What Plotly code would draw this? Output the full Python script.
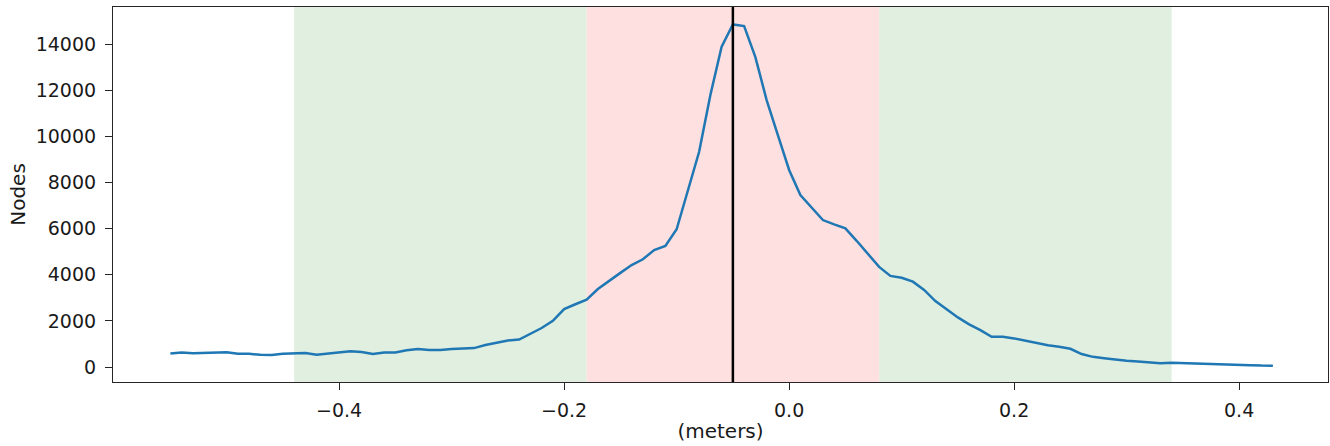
import plotly.graph_objects as go

meters = [-0.55, -0.54, -0.53, -0.52, -0.51, -0.50, -0.49, -0.48, -0.47, -0.46,
          -0.45, -0.44, -0.43, -0.42, -0.41, -0.40, -0.39, -0.38, -0.37, -0.36,
          -0.35, -0.34, -0.33, -0.32, -0.31, -0.30, -0.29, -0.28, -0.27, -0.26,
          -0.25, -0.24, -0.23, -0.22, -0.21, -0.20, -0.19, -0.18, -0.17, -0.16,
          -0.15, -0.14, -0.13, -0.12, -0.11, -0.10, -0.09, -0.08, -0.07, -0.06,
          -0.05, -0.04, -0.03, -0.02, -0.01, 0.00, 0.01, 0.02, 0.03, 0.04,
          0.05, 0.06, 0.07, 0.08, 0.09, 0.10, 0.11, 0.12, 0.13, 0.14,
          0.15, 0.16, 0.17, 0.18, 0.19, 0.20, 0.21, 0.22, 0.23, 0.24,
          0.25, 0.26, 0.27, 0.28, 0.29, 0.30, 0.31, 0.32, 0.33, 0.34,
          0.35, 0.36, 0.37, 0.38, 0.39, 0.40, 0.41, 0.42, 0.43]

nodes = [590, 630, 600, 610, 610, 640, 570, 570, 530, 520,
         570, 580, 610, 530, 590, 620, 680, 650, 560, 630,
         630, 730, 780, 740, 740, 780, 810, 820, 950, 1050,
         1150, 1190, 1430, 1690, 2000, 2510, 2720, 2920, 3380, 3750,
         4080, 4420, 4670, 5070, 5250, 5970, 7600, 9330, 11790, 13880,
         14850, 14780, 13430, 11570, 10050, 8540, 7450, 6920, 6370, 6180,
         6010, 5470, 4900, 4340, 3950, 3870, 3700, 3340, 2860, 2510,
         2150, 1850, 1600, 1310, 1310, 1240, 1140, 1050, 940, 880,
         790, 560, 440, 380, 310, 270, 240, 200, 160, 180,
         170, 150, 130, 110, 100, 90, 80, 60, 56]

center = -0.05
inner_band = [-0.18, 0.08]
outer_band = [-0.44, 0.34]

x_ticks = [-0.4, -0.2, 0.0, 0.2, 0.4]
y_ticks = [0, 2000, 4000, 6000, 8000, 10000, 12000, 14000]

fig = go.Figure()
fig.add_trace(go.Scatter(x=meters, y=nodes, mode="lines",
                         line=dict(color="#1f77b4", width=2.5),
                         showlegend=False, hoverinfo="x+y"))

green = "#e0efe0"
red = "#ffe0e0"
fig.add_vrect(x0=outer_band[0], x1=inner_band[0], fillcolor=green, opacity=1,
              line_width=0, layer="below")
fig.add_vrect(x0=inner_band[1], x1=outer_band[1], fillcolor=green, opacity=1,
              line_width=0, layer="below")
fig.add_vrect(x0=inner_band[0], x1=inner_band[1], fillcolor=red, opacity=1,
              line_width=0, layer="below")
fig.add_vline(x=center, line_color="black", line_width=2.5)

title_font = dict(family="DejaVu Sans", size=20, color="#1a1a1a")

fig.update_layout(
    width=1330, height=446,
    margin=dict(l=113, r=2, t=7, b=64),
    paper_bgcolor="white", plot_bgcolor="white",
    font=dict(family="DejaVu Sans", size=19, color="#1a1a1a"),
)
fig.update_xaxes(range=[-0.601, 0.479], tickvals=x_ticks, tickformat=".1f",
                 showgrid=False, zeroline=False, showline=True, mirror=True,
                 linecolor="#262626", linewidth=1.2, ticks="outside",
                 ticklen=7, tickcolor="#262626", ticklabelstandoff=4,
                 automargin=False,
                 title=dict(text="(meters)", standoff=4, font=title_font))
fig.update_yaxes(range=[-650, 15604], tickvals=y_ticks, tickformat="d",
                 showgrid=False, zeroline=False, showline=True, mirror=True,
                 linecolor="#262626", linewidth=1.2, ticks="outside",
                 ticklen=7, tickcolor="#262626", ticklabelstandoff=5,
                 automargin=False,
                 title=dict(text="Nodes", standoff=4, font=title_font))

fig.write_html("out.html", config={"displayModeBar": False},
               post_script="document.body.style.margin='0';")
